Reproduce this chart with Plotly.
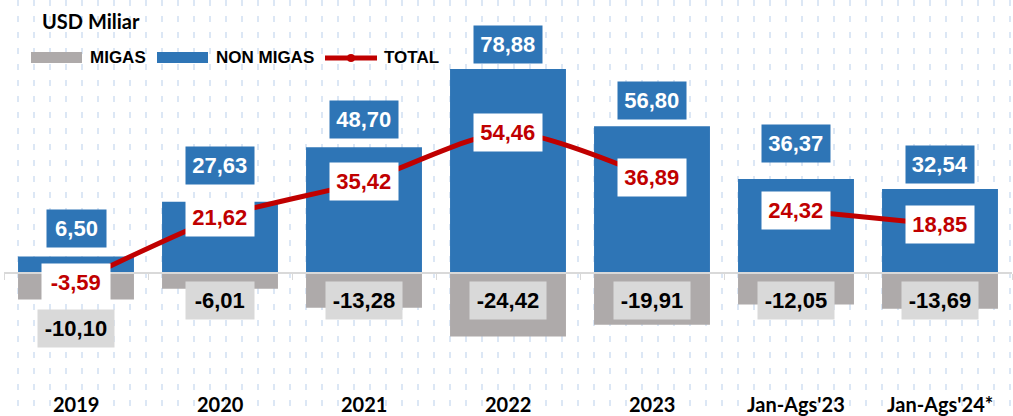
import plotly.graph_objects as go

# data (USD miliar)
categories = ["2019", "2020", "2021", "2022", "2023", "Jan-Ags'23", "Jan-Ags'24*"]
migas = [-10.10, -6.01, -13.28, -24.42, -19.91, -12.05, -13.69]
non_migas = [6.50, 27.63, 48.70, 78.88, 56.80, 36.37, 32.54]
total = [-3.59, 21.62, 35.42, 54.46, 36.89, 24.32, 18.85]

BLUE = '#2E75B6'
GREY = '#AEAAAA'
RED = '#C00000'
NARROW = 'Liberation Sans Narrow, Liberation Sans, Arial, sans-serif'
W, H = 1013, 416
ML, MR = 4, 1
Y_RANGE = [-55.1, 105.5]


def fmt(v):
    return f'{v:.2f}'.replace('.', ',')


def px_x(px):
    return (px - ML) / (W - ML - MR)


def px_y(py):
    return 1 - py / H


fig = go.Figure()

fig.add_trace(go.Bar(x=categories, y=migas, name='MIGAS',
                     marker=dict(color=GREY, line=dict(width=0))))
fig.add_trace(go.Bar(x=categories, y=non_migas, name='NON MIGAS',
                     marker=dict(color=BLUE, line=dict(width=0))))

# total line: years and the Jan-Ags pair are drawn apart
for sl in (slice(0, 5), slice(5, 7)):
    fig.add_trace(go.Scatter(
        x=categories[sl], y=total[sl], mode='lines',
        line=dict(color=RED, width=5, shape='spline', smoothing=0.7),
        showlegend=False, hoverinfo='skip'
    ))

# label placement (px shifts)
nm_shift = [28, 36, 28, 24, 26, 36, 24]
mg_shift = [-55, -27, -27, -27, -27, -27, -27]

annotations = []
for i, c in enumerate(categories):
    for val, y, shift, fg, bg in (
        (non_migas[i], non_migas[i], nm_shift[i], 'white', BLUE),
        (migas[i], 0, mg_shift[i], 'black', '#D9D9D9'),
        (total[i], total[i], 0, RED, 'white'),
    ):
        txt = fmt(val)
        annotations.append(dict(
            x=i, y=y, yshift=shift, text=f'<b>{txt}</b>', showarrow=False,
            font=dict(family=NARROW, size=22, color=fg),
            bgcolor=bg, borderpad=4, width=len(txt) * 8.5 + 17, height=29,
            xanchor='center', yanchor='middle'
        ))
    annotations.append(dict(
        x=i, y=px_y(404), yref='paper', text=f'<b>{c}</b>', showarrow=False,
        font=dict(family='Lato, sans-serif', size=20, color='black'),
        xanchor='center', yanchor='middle'
    ))

annotations.append(dict(
    x=px_x(40), y=px_y(21), xref='paper', yref='paper', text='<b>USD Miliar</b>',
    showarrow=False, xanchor='left', yanchor='middle',
    font=dict(family='Lato, sans-serif', size=20, color='black')
))

# legend drawn by hand to get the wide swatches
shapes = []
legend_items = [('MIGAS', GREY, 31, 'bar'), ('NON MIGAS', BLUE, 157, 'bar'), ('TOTAL', RED, 325, 'line')]
for label, col, x0, kind in legend_items:
    if kind == 'bar':
        shapes.append(dict(type='rect', xref='paper', yref='paper',
                           x0=px_x(x0), x1=px_x(x0 + 51), y0=px_y(63), y1=px_y(52),
                           fillcolor=col, line=dict(width=0)))
    else:
        shapes.append(dict(type='line', xref='paper', yref='paper',
                           x0=px_x(x0), x1=px_x(x0 + 52), y0=px_y(58), y1=px_y(58),
                           line=dict(color=col, width=5)))
        shapes.append(dict(type='circle', xref='paper', yref='paper',
                           x0=px_x(x0 + 22), x1=px_x(x0 + 30), y0=px_y(62), y1=px_y(54),
                           fillcolor=col, line=dict(width=0)))
    annotations.append(dict(
        x=px_x(x0 + 57), y=px_y(58), xref='paper', yref='paper', text=f'<b>{label}</b>',
        showarrow=False, xanchor='left', yanchor='middle',
        font=dict(family=NARROW, size=17, color='black')
    ))

zero_pos = (0 - Y_RANGE[0]) / (Y_RANGE[1] - Y_RANGE[0])

fig.update_layout(
    width=W, height=H,
    margin=dict(l=ML, r=MR, t=0, b=0),
    barmode='relative', bargap=0.195,
    plot_bgcolor='white', paper_bgcolor='white',
    showlegend=False,
    annotations=annotations, shapes=shapes,
    xaxis=dict(type='category', range=[-0.5, 6.5], showgrid=False,
               showline=True, linecolor='#D9D9D9', linewidth=2,
               ticks='outside', tickson='boundaries', ticklen=6, tickcolor='#D9D9D9',
               showticklabels=False, anchor='free', position=zero_pos),
    # faint dotted background texture
    xaxis2=dict(overlaying='x', range=[ML, W - MR], tick0=2, dtick=16,
                showgrid=True, gridcolor='#DCE7F5', gridwidth=2, griddash='6px,10px',
                showticklabels=False, zeroline=False, showline=False),
    yaxis=dict(range=Y_RANGE, visible=False, showgrid=False, zeroline=False),
)
# attach an invisible trace so xaxis2 is drawn
fig.add_trace(go.Scatter(x=[ML], y=[0], xaxis='x2', mode='markers',
                         marker=dict(opacity=0), showlegend=False, hoverinfo='skip'))

fig.write_html("out.html", config={'displayModeBar': False},
               post_script="document.body.style.margin='0';")
